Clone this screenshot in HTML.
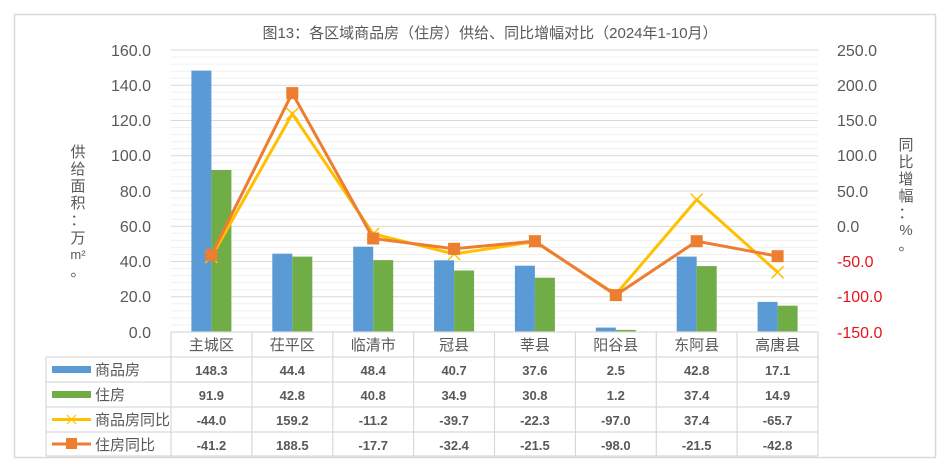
<!DOCTYPE html>
<html><head><meta charset="utf-8"><style>
html,body{margin:0;padding:0;background:#fff;}
svg{display:block;font-family:"Liberation Sans","Noto Sans CJK SC",sans-serif;}
</style></head><body>
<svg id="s" width="948" height="466" viewBox="0 0 948 466" xmlns="http://www.w3.org/2000/svg">
<rect x="14.5" y="14.5" width="921" height="443" fill="#fff" stroke="#d9d9d9" stroke-width="1.5"/>
<text x="490" y="38" text-anchor="middle" font-size="15" fill="#595959">图13：各区域商品房（住房）供给、同比增幅对比（2024年1-10月）</text>
<g id="minor" stroke="#f0f0f0" stroke-width="1"></g>
<g stroke="#d9d9d9" stroke-width="1">
<line x1="171" x2="818" y1="50" y2="50"/><line x1="171" x2="818" y1="85.25" y2="85.25"/><line x1="171" x2="818" y1="120.5" y2="120.5"/><line x1="171" x2="818" y1="155.75" y2="155.75"/><line x1="171" x2="818" y1="191" y2="191"/><line x1="171" x2="818" y1="226.25" y2="226.25"/><line x1="171" x2="818" y1="261.5" y2="261.5"/><line x1="171" x2="818" y1="296.75" y2="296.75"/>
</g>
<g font-size="16" fill="#595959" text-anchor="end">
<text x="151" y="56">160.0</text><text x="151" y="91">140.0</text><text x="151" y="126">120.0</text><text x="151" y="161">100.0</text><text x="151" y="197">80.0</text><text x="151" y="232">60.0</text><text x="151" y="267">40.0</text><text x="151" y="302">20.0</text><text x="151" y="338">0.0</text>
</g>
<g font-size="16" fill="#595959">
<text x="837" y="56">250.0</text><text x="837" y="91">200.0</text><text x="837" y="126">150.0</text><text x="837" y="161">100.0</text><text x="837" y="197">50.0</text><text x="837" y="232">0.0</text>
</g>
<g font-size="16" fill="#e8141c">
<text x="837" y="267">-50.0</text><text x="837" y="302">-100.0</text><text x="837" y="338">-150.0</text>
</g>
<g font-size="15" fill="#595959" text-anchor="middle">
<text x="78" y="157">供</text><text x="78" y="174">给</text><text x="78" y="191">面</text><text x="78" y="208">积</text><text x="78" y="225">：</text><text x="78" y="243">万</text><text x="78" y="259" font-size="13">m²</text><text x="78" y="276">。</text>
<text x="906" y="150">同</text><text x="906" y="167">比</text><text x="906" y="184">增</text><text x="906" y="201">幅</text><text x="906" y="218">：</text><text x="906" y="235">%</text><text x="906" y="250">。</text>
</g>
<g fill="#5b9bd5">
<rect x="191.4" y="70.6" width="20" height="261.4"/><rect x="272.3" y="253.7" width="20" height="78.3"/><rect x="353.2" y="246.7" width="20" height="85.3"/><rect x="434.1" y="260.3" width="20" height="71.7"/><rect x="514.9" y="265.7" width="20" height="66.3"/><rect x="595.8" y="327.6" width="20" height="4.4"/><rect x="676.7" y="256.6" width="20" height="75.4"/><rect x="757.6" y="301.9" width="20" height="30.1"/>
</g>
<g fill="#70ad47">
<rect x="211.4" y="170" width="20" height="162"/><rect x="292.3" y="256.6" width="20" height="75.4"/><rect x="373.2" y="260.1" width="20" height="71.9"/><rect x="454.1" y="270.5" width="20" height="61.5"/><rect x="534.9" y="277.7" width="20" height="54.3"/><rect x="615.8" y="329.9" width="20" height="2.1"/><rect x="696.7" y="266.1" width="20" height="65.9"/><rect x="777.6" y="305.7" width="20" height="26.3"/>
</g>
<polyline fill="none" stroke="#ffc000" stroke-width="3" points="211.4,257 292.3,113.8 373.2,233.9 454.1,254 534.9,241.7 615.8,294.4 696.7,199.6 777.6,272.3"/>
<g stroke="#ffc000" stroke-width="1.5" id="xm"></g>
<polyline fill="none" stroke="#ed7d31" stroke-width="3" points="211.4,255 292.3,93.1 373.2,238.5 454.1,248.8 534.9,241.2 615.8,295.1 696.7,241.2 777.6,256.2"/>
<g fill="#ed7d31">
<rect x="205.4" y="249" width="12" height="12"/><rect x="286.3" y="87.1" width="12" height="12"/><rect x="367.2" y="232.5" width="12" height="12"/><rect x="448.1" y="242.8" width="12" height="12"/><rect x="528.9" y="235.2" width="12" height="12"/><rect x="609.8" y="289.1" width="12" height="12"/><rect x="690.7" y="235.2" width="12" height="12"/><rect x="771.6" y="250.2" width="12" height="12"/>
</g>
<g stroke="#d9d9d9" stroke-width="1.2">
<line x1="171" x2="818" y1="332" y2="332"/>
<line x1="46" x2="818" y1="357" y2="357"/><line x1="46" x2="818" y1="382" y2="382"/><line x1="46" x2="818" y1="407" y2="407"/><line x1="46" x2="818" y1="432" y2="432"/><line x1="46" x2="818" y1="456" y2="456"/>
<line x1="46" x2="46" y1="357" y2="456"/>
<line x1="171" x2="171" y1="332" y2="456"/><line x1="251.9" x2="251.9" y1="332" y2="456"/><line x1="332.8" x2="332.8" y1="332" y2="456"/><line x1="413.6" x2="413.6" y1="332" y2="456"/><line x1="494.5" x2="494.5" y1="332" y2="456"/><line x1="575.4" x2="575.4" y1="332" y2="456"/><line x1="656.3" x2="656.3" y1="332" y2="456"/><line x1="737.1" x2="737.1" y1="332" y2="456"/><line x1="818" x2="818" y1="332" y2="456"/>
</g>
<g font-size="15" fill="#595959" text-anchor="middle">
<text x="211.4" y="350">主城区</text><text x="292.3" y="350">茌平区</text><text x="373.2" y="350">临清市</text><text x="454.1" y="350">冠县</text><text x="534.9" y="350">莘县</text><text x="615.8" y="350">阳谷县</text><text x="696.7" y="350">东阿县</text><text x="777.6" y="350">高唐县</text>
</g>
<rect x="52" y="366" width="39" height="7" fill="#5b9bd5"/>
<rect x="52" y="391" width="39" height="7" fill="#70ad47"/>
<line x1="52" x2="91" y1="419.5" y2="419.5" stroke="#ffc000" stroke-width="3"/>
<path d="M67,415 l9,9 M76,415 l-9,9" stroke="#ffc000" stroke-width="1.2"/>
<line x1="52" x2="91" y1="444" y2="444" stroke="#ed7d31" stroke-width="3"/>
<rect x="66" y="438" width="11" height="11" fill="#ed7d31"/>
<g font-size="15" fill="#595959">
<text x="95" y="375">商品房</text><text x="95" y="400">住房</text><text x="95" y="425">商品房同比</text><text x="95" y="450">住房同比</text>
</g>
<g font-size="13" font-weight="bold" fill="#595959" text-anchor="middle">
<text x="211.4" y="375">148.3</text><text x="292.3" y="375">44.4</text><text x="373.2" y="375">48.4</text><text x="454.1" y="375">40.7</text><text x="534.9" y="375">37.6</text><text x="615.8" y="375">2.5</text><text x="696.7" y="375">42.8</text><text x="777.6" y="375">17.1</text>
<text x="211.4" y="400">91.9</text><text x="292.3" y="400">42.8</text><text x="373.2" y="400">40.8</text><text x="454.1" y="400">34.9</text><text x="534.9" y="400">30.8</text><text x="615.8" y="400">1.2</text><text x="696.7" y="400">37.4</text><text x="777.6" y="400">14.9</text>
<text x="211.4" y="425">-44.0</text><text x="292.3" y="425">159.2</text><text x="373.2" y="425">-11.2</text><text x="454.1" y="425">-39.7</text><text x="534.9" y="425">-22.3</text><text x="615.8" y="425">-97.0</text><text x="696.7" y="425">37.4</text><text x="777.6" y="425">-65.7</text>
<text x="211.4" y="450">-41.2</text><text x="292.3" y="450">188.5</text><text x="373.2" y="450">-17.7</text><text x="454.1" y="450">-32.4</text><text x="534.9" y="450">-21.5</text><text x="615.8" y="450">-98.0</text><text x="696.7" y="450">-21.5</text><text x="777.6" y="450">-42.8</text>
</g>
</svg>
<script>
var ns="http://www.w3.org/2000/svg",g=document.getElementById("minor");
for(var i=0;i<40;i++){var y=50+i*7.05;if(i%5==0)continue;var l=document.createElementNS(ns,"line");l.setAttribute("x1",171);l.setAttribute("x2",818);l.setAttribute("y1",y);l.setAttribute("y2",y);g.appendChild(l);}
var xm=document.getElementById("xm"),pts=[[211.4,257],[292.3,113.8],[373.2,233.9],[454.1,254],[534.9,241.7],[615.8,294.4],[696.7,199.6],[777.6,272.3]];
pts.forEach(function(p){var d=document.createElementNS(ns,"path");d.setAttribute("d","M"+(p[0]-6)+","+(p[1]-6)+" l12,12 M"+(p[0]+6)+","+(p[1]-6)+" l-12,12");xm.appendChild(d);});
</script>
</body></html>
